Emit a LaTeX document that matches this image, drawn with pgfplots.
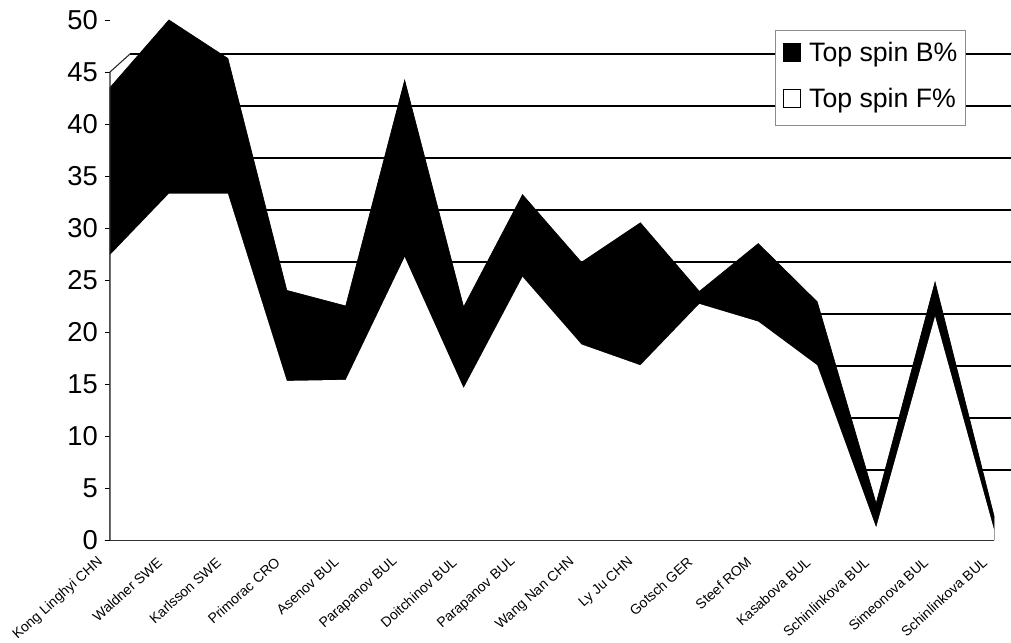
\documentclass[border=0pt]{standalone}
\usepackage{pgfplots}
\pgfplotsset{compat=1.18}
\usepackage{fontspec}
\setmainfont{Liberation Sans}
\pgfplotstableread{
x B F
0 43.5 27.4
1 50.0 33.3
2 46.3 33.3
3 24.0 15.3
4 22.5 15.4
5 44.2 27.2
6 22.4 14.6
7 33.2 25.3
8 26.7 18.8
9 30.5 16.8
10 23.9 22.7
11 28.5 21.0
12 22.9 16.8
13 3.5 1.2
14 24.8 21.5
15 2.3 1.0
}\datatable
\begin{document}
\begin{tikzpicture}
\begin{axis}[
  at={(0pt,0pt)}, anchor=south west,
  scale only axis, width=663pt, height=390pt,
  xmin=0, xmax=15, ymin=0, ymax=50,
  clip=false,
  axis x line*=bottom, axis y line*=left,
  y axis line style={draw=none},
  x axis line style={line width=0.8pt, black!85},
  ytick={0,5,...,50},
  xtick={0,...,15},
  xticklabels={Kong Linghyi CHN, Waldner SWE, Karlsson SWE, Primorac CRO, Asenov BUL, Parapanov BUL, Doitchinov BUL, Parapanov BUL, Wang Nan CHN, Ly Ju CHN, Gotsch GER, Steef ROM, Kasabova BUL, Schinlinkova BUL, Simeonova BUL, Schinlinkova BUL},
  x tick style={draw=none},
  y tick style={black, line width=0.6pt},
  tick align=outside, major tick length=4pt,
  /pgf/number format/assume math mode=true,
  yticklabel style={font=\fontsize{20.5}{24}\selectfont, inner sep=0pt, anchor=east, xshift=-5pt},
  xticklabel style={font=\fontsize{10.5}{12}\selectfont, inner sep=0pt, xshift=-6.75pt, yshift=-11pt, rotate=42, anchor=east},
  legend style={at={(0.752,0.981)}, anchor=north west, draw=black!45, line width=0.5pt, fill=white,
    inner xsep=6pt, inner ysep=9pt, row sep=16pt,
    font=\fontsize{20}{24}\selectfont,
    nodes={inner sep=0pt, text height=14.3pt, text depth=4.2pt},
    /tikz/every odd column/.append style={column sep=6pt}},
  legend cell align=left,
]
\pgfplotsinvokeforeach{5,10,15,20,25,30,35,40,45}{
  \draw[line width=0.9pt, black] ([xshift=15pt,yshift=13.5pt]axis cs:0,#1) -- ([xshift=15pt,yshift=13.5pt]axis cs:16,#1);
}
\addplot[fill=black, draw=black, line width=0.5pt,
  legend image code/.code={\draw[fill=black, draw=black] (0pt,-5.4pt) rectangle (12.75pt,8.1pt);}]
  table[x=x, y=B] {\datatable} \closedcycle;
\addlegendentry{Top spin B\%}
\addplot[fill=white, draw=none,
  legend image code/.code={\draw[fill=white, draw=black, line width=0.8pt] (0pt,-5.4pt) rectangle (12.75pt,8.1pt);}]
  table[x=x, y=F] {\datatable} \closedcycle;
\addlegendentry{Top spin F\%}
\draw[line width=0.8pt, black!85] (axis cs:0,0) -- (axis cs:0,45) -- ([xshift=15pt,yshift=13.5pt]axis cs:0,45);
\end{axis}
\pgfresetboundingbox
\path (-82.5pt,-77.25pt) rectangle (675.75pt,405pt);
\end{tikzpicture}
\end{document}
